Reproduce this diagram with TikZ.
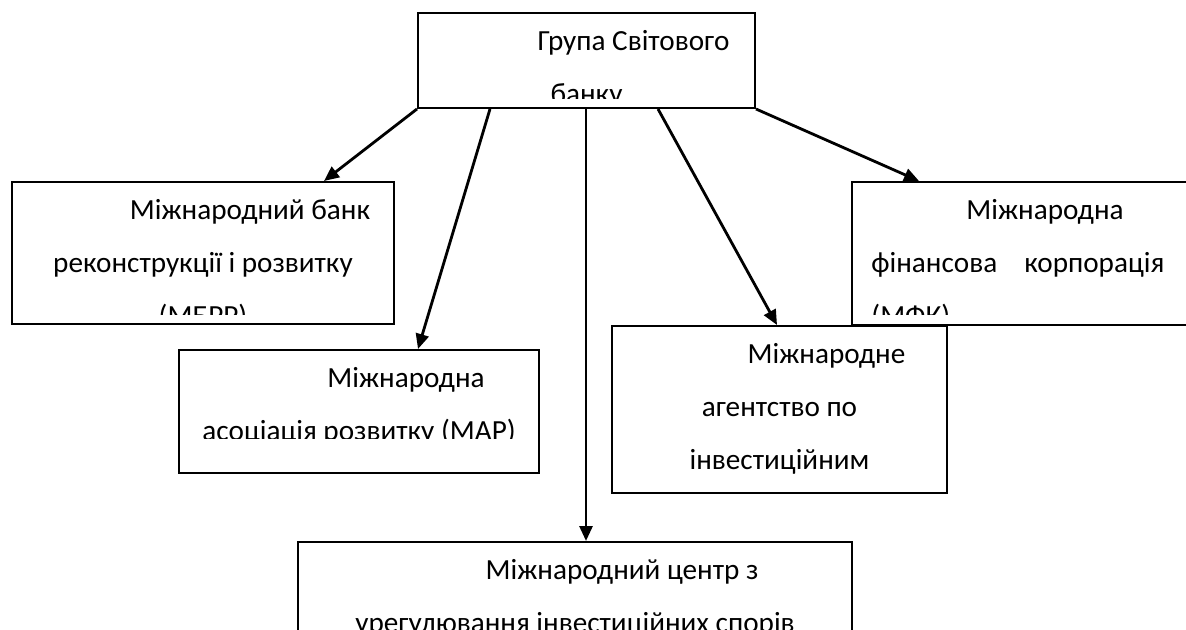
\documentclass[tikz,border=0pt]{standalone}
\usepackage{fontspec}
\setmainfont{Carlito}
\usetikzlibrary{arrows.meta}

\begin{document}
\begin{tikzpicture}[x=0.5pt,y=-0.5pt,
    box/.style={draw,line width=1pt,fill=white,inner sep=0pt},
    txt/.style={anchor=north,inner sep=0pt,align=center,font=\fontsize{14.6}{26.5}\selectfont},
    arr/.style={-{Triangle[length=7.5pt,width=6.5pt]},line width=1.4pt}]
  \clip (0,0) rectangle (1186,630);
  % frames
  \node[box,minimum width=168.5pt,minimum height=47.5pt] (wbg) at (586.5,60.5) {};
  \node[box,minimum width=191pt,minimum height=71pt] (ibrd) at (203,253) {};
  \node[box,minimum width=180pt,minimum height=61.5pt] (ida) at (359,411.5) {};
  \node[box,minimum width=168pt,minimum height=71.5pt] (ifc) at (1020,253.5) {};
  \node[box,minimum width=167.5pt,minimum height=83.5pt] (miga) at (779.5,409.5) {};
  \node[box,minimum width=277pt,minimum height=84pt] (icsid) at (575,626) {};
  % texts, cut off at the bottom
  \begin{scope}
    \clip ([yshift=5pt]wbg.south west) rectangle (wbg.north east);
    \node[txt] (wbg-t) at ([yshift=-7pt]wbg.north)
      {\hspace*{47pt}\rule{0pt}{12pt}Група Світового\\банку};
  \end{scope}
  \begin{scope}
    \clip ([yshift=5.5pt]ibrd.south west) rectangle (ibrd.north east);
    \node[txt] (ibrd-t) at ([yshift=-7pt]ibrd.north)
      {\hspace*{47pt}\rule{0pt}{12pt}Міжнародний банк\\реконструкції і розвитку\\(МБРР)};
  \end{scope}
  \begin{scope}
    \clip ([yshift=18pt]ida.south west) rectangle (ida.north east);
    \node[txt] (ida-t) at ([yshift=-7pt]ida.north)
      {\hspace*{47pt}\rule{0pt}{12pt}Міжнародна\\асоціація розвитку (МАР)};
  \end{scope}
  \begin{scope}
    \clip ([yshift=6pt]ifc.south west) rectangle (ifc.north east);
    \node[txt,anchor=north west,align=left,text width=146.5pt] (ifc-t) at ([xshift=10pt,yshift=-7pt]ifc.north west)
      {\hspace*{47.5pt}\rule{0pt}{12pt}Міжнародна\\фінансова\hfill корпорація\\(МФК)};
  \end{scope}
  \node[txt] (miga-t) at ([yshift=-7pt]miga.north)
    {\hspace*{47pt}\rule{0pt}{12pt}Міжнародне\\агентство по\\інвестиційним};
  \node[txt] (icsid-t) at ([yshift=-7pt]icsid.north)
    {\hspace*{47pt}\rule{0pt}{12pt}Міжнародний центр з\\урегулювання інвестиційних спорів};
  % connectors
  \draw[arr] (wbg.south west) -- ([xshift=156.5pt]ibrd.north west);
  \draw[arr] ([xshift=36.5pt]wbg.south west) -- ([xshift=120pt]ida.north west);
  \draw[arr] ([xshift=84.5pt]wbg.south west) coordinate (down) -- (down |- icsid.north);
  \draw[arr] ([xshift=120.5pt]wbg.south west) -- ([xshift=83pt]miga.north west);
  \draw[arr] (wbg.south east) -- ([xshift=34pt]ifc.north west);
\end{tikzpicture}
\end{document}
